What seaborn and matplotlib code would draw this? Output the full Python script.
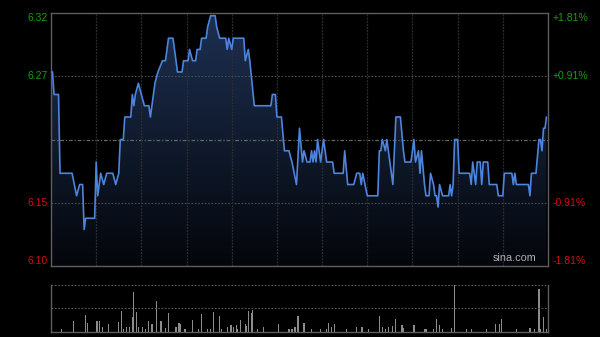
import numpy as np
import pandas as pd
import matplotlib
matplotlib.use("Agg")
import matplotlib.pyplot as plt
import seaborn as sns
from matplotlib.colors import LinearSegmentedColormap
from matplotlib.patches import PathPatch

# ---- data (minute index in HK trading session, price) ----
minutes = [0, 1, 2, 5, 6, 14, 17, 19, 21, 22, 23, 29, 30, 31, 33, 35, 37, 41, 43, 45,
           46, 48, 49, 53, 54, 55, 56, 58, 60, 62, 65, 66, 69, 71, 74, 76, 78, 81, 84, 87,
           88, 91, 92, 94, 96, 97, 99, 100, 103, 104, 106, 109, 110, 112, 116, 117, 118, 120, 121, 128,
           129, 131, 132, 135, 146, 147, 149, 150, 153, 155, 158, 160, 163, 165, 167, 168, 170, 172, 173, 174,
           175, 176, 177, 179, 181, 183, 187, 188, 194, 195, 197, 201, 203, 205, 206, 207, 210, 217, 218, 219,
           220, 222, 223, 225, 227, 229, 232, 234, 235, 239, 241, 242, 244, 245, 246, 248, 249, 251, 252, 254,
           255, 256, 257, 258, 260, 264, 265, 266, 267, 268, 270, 271, 278, 279, 280, 282, 283, 285, 286, 287,
           290, 291, 296, 297, 300, 301, 306, 307, 308, 309, 317, 318, 319, 322, 324, 325, 326, 327, 328, 329]
prices = [6.27, 6.27, 6.25, 6.25, 6.18, 6.18, 6.16, 6.17, 6.17, 6.13, 6.14, 6.14, 6.19, 6.16, 6.18, 6.17, 6.18, 6.18, 6.17, 6.18,
          6.21, 6.21, 6.23, 6.23, 6.25, 6.24, 6.25, 6.26, 6.25, 6.24, 6.24, 6.23, 6.26, 6.27, 6.28, 6.28, 6.30, 6.30, 6.27, 6.27,
          6.28, 6.28, 6.29, 6.28, 6.28, 6.29, 6.29, 6.30, 6.30, 6.31, 6.32, 6.32, 6.31, 6.30, 6.30, 6.29, 6.30, 6.29, 6.30, 6.30,
          6.28, 6.29, 6.28, 6.24, 6.24, 6.25, 6.25, 6.23, 6.23, 6.20, 6.20, 6.19, 6.17, 6.22, 6.19, 6.20, 6.19, 6.19, 6.20, 6.19,
          6.20, 6.19, 6.21, 6.19, 6.21, 6.19, 6.19, 6.18, 6.18, 6.20, 6.17, 6.17, 6.18, 6.18, 6.17, 6.18, 6.16, 6.16, 6.20, 6.20,
          6.21, 6.20, 6.21, 6.19, 6.17, 6.23, 6.23, 6.20, 6.19, 6.19, 6.21, 6.19, 6.20, 6.18, 6.20, 6.17, 6.16, 6.16, 6.18, 6.17,
          6.16, 6.16, 6.15, 6.17, 6.16, 6.16, 6.17, 6.16, 6.17, 6.21, 6.21, 6.18, 6.18, 6.17, 6.19, 6.17, 6.19, 6.19, 6.17, 6.19,
          6.19, 6.17, 6.17, 6.16, 6.16, 6.18, 6.18, 6.17, 6.18, 6.17, 6.17, 6.16, 6.18, 6.18, 6.21, 6.21, 6.20, 6.22, 6.22, 6.23]

vol_minutes = [7, 15, 23, 24, 30, 31, 32, 34, 38, 45, 47, 48, 50, 52, 54, 55, 57, 58, 61, 63,
               65, 67, 70, 73, 76, 78, 83, 85, 86, 89, 94, 98, 100, 104, 106, 108, 112, 113, 117, 119,
               120, 121, 123, 124, 126, 129, 130, 131, 133, 134, 137, 141, 151, 158, 160, 162, 164, 168, 173, 179,
               183, 184, 186, 188, 196, 203, 206, 207, 211, 218, 220, 222, 224, 227, 229, 233, 234, 241, 248, 249,
               254, 256, 258, 260, 266, 268, 276, 279, 289, 295, 298, 299, 309, 318, 321, 324, 325, 327, 329]
vol_values = [2.3, 10.7, 16.7, 9, 10.7, 10.7, 10.7, 5, 7.7, 9.7, 20.7, 3, 5, 4.3, 14.3, 39.7, 20, 5, 5, 3,
              10.7, 7.7, 30.3, 10.7, 4, 19, 4.3, 9, 7.3, 3, 11.7, 3, 17.3, 2.3, 3, 20, 15.7, 2.3, 5, 6.7,
              6.7, 4.3, 6.3, 3, 11.7, 7.7, 6, 21, 18.3, 21.7, 2.3, 5, 7.7, 2.3, 2.3, 4.3, 16, 9, 3, 2.3,
              2.3, 9, 5, 7.7, 2.3, 5, 4.3, 4.3, 3, 15.7, 4.3, 3, 4.3, 5.7, 12.3, 6.7, 3.3, 6.7, 2.3, 3,
              2.3, 12.3, 6.7, 2.3, 3.3, 46.7, 2.3, 2.3, 3, 7.7, 7.7, 12.3, 3, 3.3, 2.3, 42.3, 2.3, 14.3, 3]

prev_close = 6.21
pct_range = 0.0181
left_labels = ["6.32", "6.27", "6.15", "6.10"]
right_labels = ["+1.81%", "+0.91%", "-0.91%", "-1.81%"]
session_len = 330

# ---- style ----
sns.set_theme(style="dark")
plt.rcParams['font.family'] = ['Liberation Sans', 'DejaVu Sans']
BG = "#000000"
FRAME = "#5e5e5e"
GRID = "#2e2e2e"
GREEN = "#14a014"
RED = "#d01010"

fig = plt.figure(figsize=(6, 3.37), dpi=100, facecolor=BG)
ax = fig.add_axes([51 / 600, 1 - 266 / 337, 497 / 600, 253 / 337])
axv = fig.add_axes([51 / 600, 1 - 331.5 / 337, 497 / 600, 46.5 / 337])
for a in (ax, axv):
    a.set_facecolor(BG)
    a.grid(False)
    a.tick_params(left=False, bottom=False, labelleft=False, labelbottom=False)

lo = prev_close * (1 - pct_range)
hi = prev_close * (1 + pct_range)

df = pd.DataFrame({"minute": minutes, "price": prices})

# gradient area under price line
poly = ax.fill_between(df["minute"], df["price"], lo, color="none", lw=0)
path = poly.get_paths()[0]
patch = PathPatch(path, transform=ax.transData, facecolor="none", edgecolor="none")
ax.add_patch(patch)
cmap = LinearSegmentedColormap.from_list("g", ["#04060b", "#1d3052"])
grad = np.linspace(0, 1, 256).reshape(-1, 1)
im = ax.imshow(grad, extent=[0, session_len, lo, hi], origin="lower", aspect="auto",
               cmap=cmap, zorder=1, interpolation="bilinear")
im.set_clip_path(patch)

# grid lines
for q in (0.5, -0.5):
    ax.axhline(prev_close * (1 + pct_range * q), color="#4c4c4c", lw=0.8,
               ls=(0, (1.5, 1.5)), zorder=2)
ax.axhline(prev_close, color="#646464", lw=0.9, ls=(0, (3, 1.5, 1, 1.5)), zorder=2)
for xv in range(30, session_len, 30):
    ax.axvline(xv, color=GRID, lw=0.9, ls=(0, (1.5, 1)), zorder=2)

sns.lineplot(data=df, x="minute", y="price", ax=ax, color="#4d84dc", lw=1.2, zorder=4)
ax.set_xlim(0, session_len)
ax.set_ylim(lo, hi)
ax.set_xlabel("")
ax.set_ylabel("")
for s in ax.spines.values():
    s.set_visible(True)
    s.set_color(FRAME)
    s.set_linewidth(1.0)

# axis labels
ytr = ax.get_yaxis_transform()
ypos = [hi, prev_close * (1 + pct_range / 2), prev_close * (1 - pct_range / 2), lo]
vas = ["top", "center", "center", "bottom"]
cols = [GREEN, GREEN, RED, RED]
for yv, va, c, ll, rl in zip(ypos, vas, cols, left_labels, right_labels):
    ax.text(-0.007, yv, ll, transform=ytr, ha="right", va=va, color=c, fontsize=7.5)
    ax.text(1.01, yv, rl, transform=ytr, ha="left", va=va, color=c, fontsize=7.5)
ax.text(0.977, 0.012, "sina.com", transform=ax.transAxes, ha="right", va="bottom",
        color="#b0b0b0", fontsize=7.8, zorder=5)

# volume panel
vdf = pd.DataFrame({"minute": vol_minutes, "volume": vol_values})
sns.barplot(data=vdf, x="minute", y="volume", ax=axv, native_scale=True,
            color="#8c8c8c", width=0.8, linewidth=0, errorbar=None, saturation=1)
axv.set_xlim(0, session_len)
axv.set_ylim(0, max(vol_values))
axv.set_xlabel("")
axv.set_ylabel("")
axv.axhline(max(vol_values) / 2, color="#5a5a5a", lw=0.8, ls=(0, (1.5, 1.5)))
axv.axhline(max(vol_values), color="#5a5a5a", lw=0.8, ls=(0, (1.5, 1.5)), clip_on=False)
axv.spines["top"].set_visible(False)
for k in ("left", "right", "bottom"):
    axv.spines[k].set_visible(True)
    axv.spines[k].set_color(FRAME)
    axv.spines[k].set_linewidth(1.0)
axv.tick_params(left=False, bottom=False, labelleft=False, labelbottom=False)

fig.savefig("out.png", dpi=100, facecolor=BG)
